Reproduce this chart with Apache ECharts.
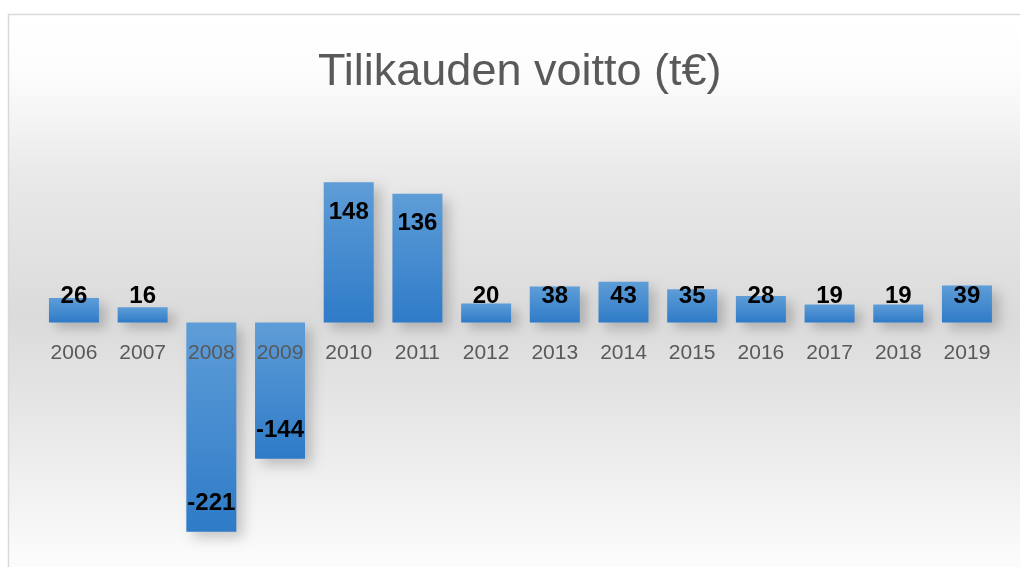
<!DOCTYPE html>
<html>
<head>
<meta charset="utf-8">
<script src="https://cdn.jsdelivr.net/npm/echarts@6/dist/echarts.min.js"></script>
<style>
  html, body { margin: 0; padding: 0; background: #fff; }
  #chart { width: 1020px; height: 567px; }
</style>
</head>
<body>
<div id="chart"></div>
<script>
// vuodet ja tilikauden voitto (t€)
const years = ['2006', '2007', '2008', '2009', '2010', '2011', '2012', '2013', '2014', '2015', '2016', '2017', '2018', '2019'];
const profit = [26, 16, -221, -144, 148, 136, 20, 38, 43, 35, 28, 19, 19, 39];

const chart = echarts.init(document.getElementById('chart'));

// label sits inside the bar end; short bars keep it just above the zero line
function labelFor(v) {
    if (v < 0) {
        return { position: 'insideBottom', distance: 16 };
    }
    if (v > 59) {
        return { position: 'insideTop', distance: 18 };
    }
    return { position: 'insideBottom', distance: 14.5 };
}

const option = {
    animation: false,
    backgroundColor: '#ffffff',
    graphic: [{
        type: 'rect',
        z: -10,
        shape: { x: 8.5, y: 14.5, width: 1030, height: 570 },
        style: {
            stroke: '#d9d9d9',
            lineWidth: 1.5,
            fill: new echarts.graphic.LinearGradient(0, 0, 0, 1, [
                { offset: 0, color: '#ffffff' },
                { offset: 0.09, color: '#fdfdfd' },
                { offset: 0.16, color: '#f7f7f7' },
                { offset: 0.28, color: '#e9e9e9' },
                { offset: 0.53, color: '#dbdbdb' },
                { offset: 0.68, color: '#e5e5e5' },
                { offset: 0.82, color: '#f0f0f0' },
                { offset: 0.95, color: '#fbfbfb' }
            ])
        }
    }],
    title: {
        text: 'Tilikauden voitto (t€)',
        left: 313,
        top: 45,
        textStyle: {
            fontFamily: 'Liberation Sans',
            fontSize: 45,
            fontWeight: 'normal',
            color: '#595959'
        }
    },
    grid: {
        left: 39.6,
        right: 18.7,
        top: 171,
        bottom: 26.7,
        outerBoundsMode: 'none'
    },
    xAxis: {
        type: 'category',
        data: years,
        z: 5,
        position: 'bottom',
        // zero line sits 217.8px above the grid bottom (230 units * 0.947px)
        offset: -217.8,
        axisLine: { show: false, onZero: false },
        axisTick: { show: false },
        axisLabel: {
            margin: 20,
            fontFamily: 'Liberation Sans',
            fontSize: 21,
            color: '#595959'
        }
    },
    yAxis: {
        type: 'value',
        min: -230,
        max: 160,
        show: false,
        splitLine: { show: false }
    },
    series: [{
        type: 'bar',
        barWidth: 50,
        itemStyle: {
            color: new echarts.graphic.LinearGradient(0, 0, 0, 1, [
                { offset: 0, color: '#5e9dd7' },
                { offset: 1, color: '#2f7bc8' }
            ]),
            shadowBlur: 12,
            shadowOffsetX: 7,
            shadowOffsetY: 6,
            shadowColor: 'rgba(0,0,0,0.2)'
        },
        label: {
            show: true,
            fontFamily: 'Liberation Sans',
            fontSize: 24,
            fontWeight: 'bold',
            color: '#000000'
        },
        data: profit.map(v => ({ value: v, label: labelFor(v) }))
    }]
};

chart.setOption(option);
</script>
</body>
</html>
